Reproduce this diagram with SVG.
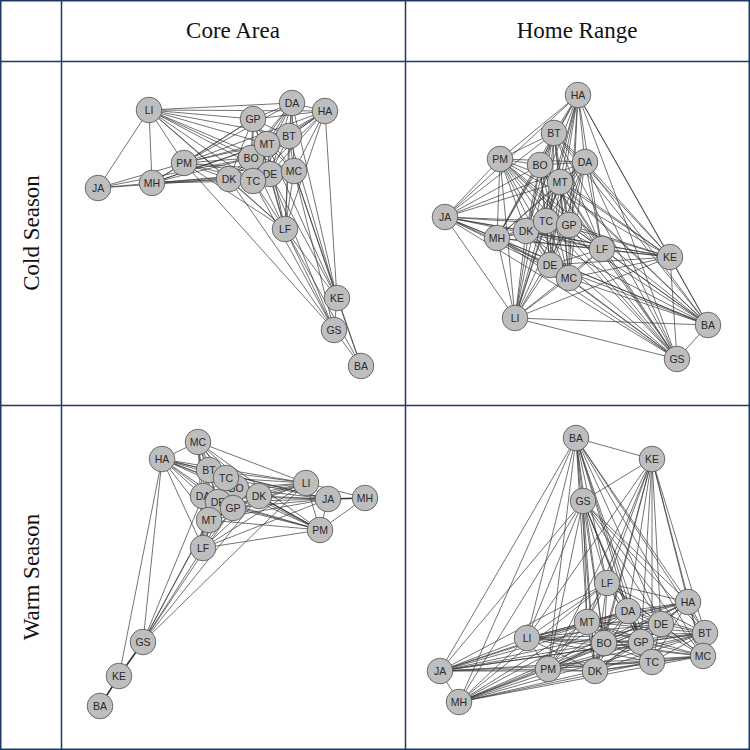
<svg xmlns="http://www.w3.org/2000/svg" width="750" height="750" viewBox="0 0 750 750">
<style>
.grid{fill:none;stroke:#1f3864;stroke-width:1.5}
.hdr{font-family:"Liberation Serif","Times New Roman",serif;font-size:23px;fill:#111;text-anchor:middle}
.e{fill:none;stroke:#383838;stroke-width:0.7}
.et{fill:none;stroke:#333;stroke-width:1.6}
.n circle{fill:#bebebe;stroke:#505050;stroke-width:0.8}
.n text{font-family:"Liberation Sans",Arial,sans-serif;font-size:10.5px;fill:#2a2a2a;text-anchor:middle}
</style>
<rect x="0" y="0" width="750" height="750" fill="#fff"/>
<g id="table">
<rect class="grid" x="0.75" y="0.75" width="748.5" height="748.5"/>
<path class="grid" d="M61.5 0V750M405.5 0V750M0 61.5H750M0 405.5H750"/>
<text class="hdr" x="233" y="38">Core Area</text>
<text class="hdr" x="577" y="38">Home Range</text>
<text class="hdr" transform="translate(39 233) rotate(-90)">Cold Season</text>
<text class="hdr" transform="translate(39 577) rotate(-90)">Warm Season</text>
</g>
<g id="connectors">
<g id="edges-core-cold">
<path class="e" d="M149 110L98 188M149 110L152 183M149 110L184 163M149 110L229 179M149 110L253 181M149 110L251 158M149 110L270 174M149 110L294 171M149 110L267 144M149 110L289 136M149 110L253 119M149 110L292 103M149 110L325 111M149 110L285 229
M98 188L152 183M98 188L184 163M98 188L229 179M98 188L251 158
M152 183L184 163M152 183L229 179M152 183L253 181M152 183L251 158M152 183L270 174M152 183L267 144M152 183L253 119M152 183L289 136M152 183L294 171
M184 163L229 179M184 163L253 181M184 163L251 158M184 163L270 174M184 163L294 171M184 163L267 144M184 163L289 136M184 163L253 119M184 163L292 103M184 163L325 111M184 163L285 229M184 163L334 330
M229 179L253 181M229 179L251 158M229 179L270 174M229 179L294 171M229 179L267 144M229 179L289 136M229 179L253 119M229 179L292 103M229 179L325 111
M253 181L251 158M253 181L270 174M253 181L294 171M253 181L267 144M253 181L289 136M253 181L253 119M253 181L292 103M253 181L325 111
M251 158L270 174M251 158L294 171M251 158L267 144M251 158L289 136M251 158L253 119M251 158L292 103M251 158L325 111
M270 174L294 171M270 174L267 144M270 174L289 136M270 174L253 119M270 174L292 103M270 174L325 111
M294 171L267 144M294 171L289 136M294 171L253 119M294 171L292 103M294 171L325 111
M267 144L289 136M267 144L253 119M267 144L292 103M267 144L325 111
M289 136L253 119M289 136L292 103M289 136L325 111
M253 119L292 103M253 119L325 111M292 103L325 111
M285 229L229 179M285 229L253 181M285 229L251 158M285 229L270 174M285 229L294 171M285 229L267 144M285 229L289 136M285 229L253 119M285 229L292 103M285 229L325 111M285 229L337 298M285 229L334 330M285 229L361 366
M337 298L325 111M337 298L292 103M337 298L289 136M337 298L294 171M337 298L270 174M337 298L267 144M337 298L334 330M337 298L361 366
M334 330L361 366M334 330L294 171M334 330L270 174M334 330L253 181M334 330L229 179M361 366L294 171"/>
</g>
<g id="edges-home-cold">
<path class="e" d="M578 95L554 133M578 95L500 159M578 95L540 165M578 95L585 162M578 95L560 182M578 95L445 217M578 95L546 221M578 95L569 225M578 95L526 231M578 95L497 238M578 95L602 249M578 95L670 257M578 95L550 265M578 95L569 278M578 95L515 318M578 95L708 325M578 95L677 359
M554 133L500 159M554 133L540 165M554 133L585 162M554 133L560 182M554 133L445 217M554 133L546 221M554 133L569 225M554 133L526 231M554 133L497 238M554 133L602 249M554 133L670 257M554 133L550 265M554 133L569 278M554 133L515 318M554 133L708 325M554 133L677 359
M500 159L540 165M500 159L585 162M500 159L560 182M500 159L445 217M500 159L546 221M500 159L569 225M500 159L526 231M500 159L497 238M500 159L602 249M500 159L670 257M500 159L550 265M500 159L569 278M500 159L515 318M500 159L708 325M500 159L677 359
M540 165L585 162M540 165L560 182M540 165L445 217M540 165L546 221M540 165L569 225M540 165L526 231M540 165L497 238M540 165L602 249M540 165L670 257M540 165L550 265M540 165L569 278M540 165L515 318M540 165L708 325M540 165L677 359
M585 162L560 182M585 162L445 217M585 162L546 221M585 162L569 225M585 162L526 231M585 162L497 238M585 162L602 249M585 162L670 257M585 162L550 265M585 162L569 278M585 162L515 318M585 162L708 325M585 162L677 359
M560 182L445 217M560 182L546 221M560 182L569 225M560 182L526 231M560 182L497 238M560 182L602 249M560 182L670 257M560 182L550 265M560 182L569 278M560 182L515 318M560 182L708 325M560 182L677 359
M445 217L546 221M445 217L569 225M445 217L526 231M445 217L497 238M445 217L602 249M445 217L670 257M445 217L550 265M445 217L569 278M445 217L515 318M445 217L708 325M445 217L677 359
M546 221L569 225M546 221L526 231M546 221L497 238M546 221L602 249M546 221L670 257M546 221L550 265M546 221L569 278M546 221L515 318M546 221L708 325M546 221L677 359
M569 225L526 231M569 225L497 238M569 225L602 249M569 225L670 257M569 225L550 265M569 225L569 278M569 225L515 318M569 225L708 325M569 225L677 359
M526 231L497 238M526 231L602 249M526 231L670 257M526 231L550 265M526 231L569 278M526 231L515 318M526 231L708 325M526 231L677 359
M497 238L602 249M497 238L670 257M497 238L550 265M497 238L569 278M497 238L515 318M497 238L708 325M497 238L677 359
M602 249L670 257M602 249L550 265M602 249L569 278M602 249L515 318M602 249L708 325M602 249L677 359
M670 257L550 265M670 257L569 278M670 257L515 318M670 257L708 325M670 257L677 359
M550 265L569 278M550 265L515 318M550 265L708 325M550 265L677 359
M569 278L515 318M569 278L708 325M569 278L677 359M515 318L708 325M515 318L677 359M708 325L677 359"/>
</g>
<g id="edges-core-warm">
<path class="e" d="M198 442L162 459M198 442L209 470M198 442L226 478M198 442L236 488M198 442L203 496M198 442L218 502M198 442L233 508M198 442L259 496M198 442L209 520M198 442L203 548
M162 459L209 470M162 459L226 478M162 459L236 488M162 459L203 496M162 459L218 502M162 459L233 508M162 459L259 496M162 459L209 520M162 459L203 548
M209 470L226 478M209 470L236 488M209 470L203 496M209 470L218 502M209 470L233 508M209 470L259 496M209 470L209 520M209 470L203 548
M226 478L236 488M226 478L203 496M226 478L218 502M226 478L233 508M226 478L259 496M226 478L209 520M226 478L203 548
M236 488L203 496M236 488L218 502M236 488L233 508M236 488L259 496M236 488L209 520M236 488L203 548
M203 496L218 502M203 496L233 508M203 496L259 496M203 496L209 520M203 496L203 548
M218 502L233 508M218 502L259 496M218 502L209 520M218 502L203 548
M233 508L259 496M233 508L209 520M233 508L203 548M259 496L209 520M259 496L203 548M209 520L203 548
M306 483L198 442M306 483L162 459M306 483L209 470M306 483L226 478M306 483L236 488M306 483L203 496M306 483L218 502M306 483L233 508M306 483L259 496M306 483L209 520M306 483L203 548M306 483L328 499M306 483L320 530M306 483L365 498
M328 499L320 530M328 499L259 496M328 499L233 508M328 499L236 488M328 499L226 478M328 499L218 502M328 499L203 496M328 499L209 520M328 499L203 548M328 499L162 459M328 499L209 470
M365 498L320 530
M320 530L259 496M320 530L233 508M320 530L236 488M320 530L226 478M320 530L218 502M320 530L203 496M320 530L209 520M320 530L203 548M320 530L162 459M320 530L209 470M320 530L198 442
M143 642L162 459M143 642L203 496M143 642L209 520M143 642L203 548M143 642L233 508M143 642L259 496M143 642L306 483M143 642L218 502
M119 676L162 459"/>
<path class="et" d="M328 499L365 498M143 642L119 676M119 676L100 706"/>
</g>
<g id="edges-home-warm">
<path class="e" d="M576 438L652 459M576 438L583 501M576 438L607 583M576 438L688 602M576 438L628 611M576 438L587 622M576 438L661 624M576 438L705 633M576 438L527 638M576 438L604 643M576 438L641 642M576 438L703 656M576 438L652 662M576 438L440 671M576 438L548 669M576 438L595 671M576 438L459 702
M652 459L583 501M652 459L607 583M652 459L688 602M652 459L628 611M652 459L587 622M652 459L661 624M652 459L705 633M652 459L527 638M652 459L604 643M652 459L641 642M652 459L703 656M652 459L652 662M652 459L548 669M652 459L595 671
M583 501L607 583M583 501L688 602M583 501L628 611M583 501L587 622M583 501L661 624M583 501L705 633M583 501L527 638M583 501L604 643M583 501L641 642M583 501L703 656M583 501L652 662M583 501L440 671M583 501L548 669M583 501L595 671M583 501L459 702
M607 583L688 602M607 583L628 611M607 583L587 622M607 583L661 624M607 583L705 633M607 583L527 638M607 583L604 643M607 583L641 642M607 583L703 656M607 583L652 662M607 583L440 671M607 583L548 669M607 583L595 671M607 583L459 702
M688 602L628 611M688 602L587 622M688 602L661 624M688 602L705 633M688 602L527 638M688 602L604 643M688 602L641 642M688 602L703 656M688 602L652 662M688 602L440 671M688 602L548 669M688 602L595 671M688 602L459 702
M628 611L587 622M628 611L661 624M628 611L705 633M628 611L527 638M628 611L604 643M628 611L641 642M628 611L703 656M628 611L652 662M628 611L440 671M628 611L548 669M628 611L595 671M628 611L459 702
M587 622L661 624M587 622L705 633M587 622L527 638M587 622L604 643M587 622L641 642M587 622L703 656M587 622L652 662M587 622L440 671M587 622L548 669M587 622L595 671M587 622L459 702
M661 624L705 633M661 624L527 638M661 624L604 643M661 624L641 642M661 624L703 656M661 624L652 662M661 624L440 671M661 624L548 669M661 624L595 671M661 624L459 702
M705 633L527 638M705 633L604 643M705 633L641 642M705 633L703 656M705 633L652 662M705 633L440 671M705 633L548 669M705 633L595 671M705 633L459 702
M527 638L604 643M527 638L641 642M527 638L703 656M527 638L652 662M527 638L440 671M527 638L548 669M527 638L595 671M527 638L459 702
M604 643L641 642M604 643L703 656M604 643L652 662M604 643L440 671M604 643L548 669M604 643L595 671M604 643L459 702
M641 642L703 656M641 642L652 662M641 642L440 671M641 642L548 669M641 642L595 671M641 642L459 702
M703 656L652 662M703 656L440 671M703 656L548 669M703 656L595 671M703 656L459 702
M652 662L440 671M652 662L548 669M652 662L595 671M652 662L459 702
M440 671L548 669M440 671L595 671M440 671L459 702M548 669L595 671M548 669L459 702M595 671L459 702"/>
</g>
</g>
<g id="nodes-core-cold" class="n">
<g id="cc-LI" transform="translate(149 110)"><circle r="12.8"/><text y="3.8">LI</text></g>
<g id="cc-JA" transform="translate(98 188)"><circle r="12.8"/><text y="3.8">JA</text></g>
<g id="cc-MH" transform="translate(152 183)"><circle r="12.8"/><text y="3.8">MH</text></g>
<g id="cc-PM" transform="translate(184 163)"><circle r="12.8"/><text y="3.8">PM</text></g>
<g id="cc-GP" transform="translate(253 119)"><circle r="12.8"/><text y="3.8">GP</text></g>
<g id="cc-DA" transform="translate(292 103)"><circle r="12.8"/><text y="3.8">DA</text></g>
<g id="cc-HA" transform="translate(325 111)"><circle r="12.8"/><text y="3.8">HA</text></g>
<g id="cc-BT" transform="translate(289 136)"><circle r="12.8"/><text y="3.8">BT</text></g>
<g id="cc-BO" transform="translate(251 158)"><circle r="12.8"/><text y="3.8">BO</text></g>
<g id="cc-MT" transform="translate(267 144)"><circle r="12.8"/><text y="3.8">MT</text></g>
<g id="cc-DK" transform="translate(229 179)"><circle r="12.8"/><text y="3.8">DK</text></g>
<g id="cc-DE" transform="translate(270 174)"><circle r="12.8"/><text y="3.8">DE</text></g>
<g id="cc-MC" transform="translate(294 171)"><circle r="12.8"/><text y="3.8">MC</text></g>
<g id="cc-TC" transform="translate(253 181)"><circle r="12.8"/><text y="3.8">TC</text></g>
<g id="cc-LF" transform="translate(285 229)"><circle r="12.8"/><text y="3.8">LF</text></g>
<g id="cc-KE" transform="translate(337 298)"><circle r="12.8"/><text y="3.8">KE</text></g>
<g id="cc-GS" transform="translate(334 330)"><circle r="12.8"/><text y="3.8">GS</text></g>
<g id="cc-BA" transform="translate(361 366)"><circle r="12.8"/><text y="3.8">BA</text></g>
</g>
<g id="nodes-home-cold" class="n">
<g id="hc-HA" transform="translate(578 95)"><circle r="12.8"/><text y="3.8">HA</text></g>
<g id="hc-BT" transform="translate(554 133)"><circle r="12.8"/><text y="3.8">BT</text></g>
<g id="hc-PM" transform="translate(500 159)"><circle r="12.8"/><text y="3.8">PM</text></g>
<g id="hc-BO" transform="translate(540 165)"><circle r="12.8"/><text y="3.8">BO</text></g>
<g id="hc-DA" transform="translate(585 162)"><circle r="12.8"/><text y="3.8">DA</text></g>
<g id="hc-MT" transform="translate(560 182)"><circle r="12.8"/><text y="3.8">MT</text></g>
<g id="hc-JA" transform="translate(445 217)"><circle r="12.8"/><text y="3.8">JA</text></g>
<g id="hc-MH" transform="translate(497 238)"><circle r="12.8"/><text y="3.8">MH</text></g>
<g id="hc-DK" transform="translate(526 231)"><circle r="12.8"/><text y="3.8">DK</text></g>
<g id="hc-TC" transform="translate(546 221)"><circle r="12.8"/><text y="3.8">TC</text></g>
<g id="hc-GP" transform="translate(569 225)"><circle r="12.8"/><text y="3.8">GP</text></g>
<g id="hc-LF" transform="translate(602 249)"><circle r="12.8"/><text y="3.8">LF</text></g>
<g id="hc-KE" transform="translate(670 257)"><circle r="12.8"/><text y="3.8">KE</text></g>
<g id="hc-DE" transform="translate(550 265)"><circle r="12.8"/><text y="3.8">DE</text></g>
<g id="hc-MC" transform="translate(569 278)"><circle r="12.8"/><text y="3.8">MC</text></g>
<g id="hc-LI" transform="translate(515 318)"><circle r="12.8"/><text y="3.8">LI</text></g>
<g id="hc-BA" transform="translate(708 325)"><circle r="12.8"/><text y="3.8">BA</text></g>
<g id="hc-GS" transform="translate(677 359)"><circle r="12.8"/><text y="3.8">GS</text></g>
</g>
<g id="nodes-core-warm" class="n">
<g id="cw-MC" transform="translate(198 442)"><circle r="12.8"/><text y="3.8">MC</text></g>
<g id="cw-HA" transform="translate(162 459)"><circle r="12.8"/><text y="3.8">HA</text></g>
<g id="cw-BT" transform="translate(209 470)"><circle r="12.8"/><text y="3.8">BT</text></g>
<g id="cw-BO" transform="translate(236 488)"><circle r="12.8"/><text y="3.8">BO</text></g>
<g id="cw-TC" transform="translate(226 478)"><circle r="12.8"/><text y="3.8">TC</text></g>
<g id="cw-DA" transform="translate(203 496)"><circle r="12.8"/><text y="3.8">DA</text></g>
<g id="cw-DE" transform="translate(218 502)"><circle r="12.8"/><text y="3.8">DE</text></g>
<g id="cw-GP" transform="translate(233 508)"><circle r="12.8"/><text y="3.8">GP</text></g>
<g id="cw-DK" transform="translate(259 496)"><circle r="12.8"/><text y="3.8">DK</text></g>
<g id="cw-MT" transform="translate(209 520)"><circle r="12.8"/><text y="3.8">MT</text></g>
<g id="cw-LF" transform="translate(203 548)"><circle r="12.8"/><text y="3.8">LF</text></g>
<g id="cw-LI" transform="translate(306 483)"><circle r="12.8"/><text y="3.8">LI</text></g>
<g id="cw-JA" transform="translate(328 499)"><circle r="12.8"/><text y="3.8">JA</text></g>
<g id="cw-MH" transform="translate(365 498)"><circle r="12.8"/><text y="3.8">MH</text></g>
<g id="cw-PM" transform="translate(320 530)"><circle r="12.8"/><text y="3.8">PM</text></g>
<g id="cw-GS" transform="translate(143 642)"><circle r="12.8"/><text y="3.8">GS</text></g>
<g id="cw-KE" transform="translate(119 676)"><circle r="12.8"/><text y="3.8">KE</text></g>
<g id="cw-BA" transform="translate(100 706)"><circle r="12.8"/><text y="3.8">BA</text></g>
</g>
<g id="nodes-home-warm" class="n">
<g id="hw-BA" transform="translate(576 438)"><circle r="12.8"/><text y="3.8">BA</text></g>
<g id="hw-KE" transform="translate(652 459)"><circle r="12.8"/><text y="3.8">KE</text></g>
<g id="hw-GS" transform="translate(583 501)"><circle r="12.8"/><text y="3.8">GS</text></g>
<g id="hw-LF" transform="translate(607 583)"><circle r="12.8"/><text y="3.8">LF</text></g>
<g id="hw-HA" transform="translate(688 602)"><circle r="12.8"/><text y="3.8">HA</text></g>
<g id="hw-DA" transform="translate(628 611)"><circle r="12.8"/><text y="3.8">DA</text></g>
<g id="hw-MT" transform="translate(587 622)"><circle r="12.8"/><text y="3.8">MT</text></g>
<g id="hw-DE" transform="translate(661 624)"><circle r="12.8"/><text y="3.8">DE</text></g>
<g id="hw-BT" transform="translate(705 633)"><circle r="12.8"/><text y="3.8">BT</text></g>
<g id="hw-LI" transform="translate(527 638)"><circle r="12.8"/><text y="3.8">LI</text></g>
<g id="hw-BO" transform="translate(604 643)"><circle r="12.8"/><text y="3.8">BO</text></g>
<g id="hw-GP" transform="translate(641 642)"><circle r="12.8"/><text y="3.8">GP</text></g>
<g id="hw-MC" transform="translate(703 656)"><circle r="12.8"/><text y="3.8">MC</text></g>
<g id="hw-TC" transform="translate(652 662)"><circle r="12.8"/><text y="3.8">TC</text></g>
<g id="hw-JA" transform="translate(440 671)"><circle r="12.8"/><text y="3.8">JA</text></g>
<g id="hw-PM" transform="translate(548 669)"><circle r="12.8"/><text y="3.8">PM</text></g>
<g id="hw-DK" transform="translate(595 671)"><circle r="12.8"/><text y="3.8">DK</text></g>
<g id="hw-MH" transform="translate(459 702)"><circle r="12.8"/><text y="3.8">MH</text></g>
</g>
</svg>
